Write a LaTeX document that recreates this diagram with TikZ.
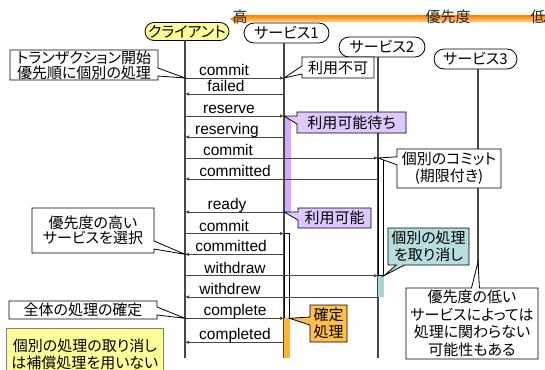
\documentclass[tikz,border=0pt]{standalone}
\usepackage{fontspec}
\setmainfont{Liberation Sans}
\newfontfamily\jp[RawFeature=+palt]{Noto Sans CJK JP}
\usetikzlibrary{shapes.callouts,shapes.misc,arrows.meta}
\definecolor{cyel}{RGB}{255,255,153}
\definecolor{cpur}{RGB}{222,200,255}
\definecolor{cpurbar}{RGB}{212,170,255}
\definecolor{cteal}{RGB}{183,222,222}
\definecolor{ctealbar}{RGB}{170,214,214}
\definecolor{corg}{RGB}{255,192,80}
\definecolor{corgbar}{RGB}{255,180,50}
\definecolor{cline}{RGB}{70,70,70}
\definecolor{cbarA}{RGB}{255,140,0}
\definecolor{cbarB}{RGB}{255,210,150}
\begin{document}
\begin{tikzpicture}[x=1pt,y=-1pt,
 head/.style={rounded rectangle, draw=black, line width=0.8pt, fill=white, font=\jp\fontsize{15}{17}\selectfont, inner sep=1pt, minimum height=19pt},
 life/.style={draw=cline, line width=1.2pt},
 msg/.style={draw=cline, line width=1pt, -{Latex[length=4pt,width=3.5pt]}},
 lbl/.style={font=\fontsize{15.5}{16}\selectfont, anchor=base, inner sep=0pt},
 note/.style={rectangle callout, draw=black, line width=0.8pt, fill=white, font=\jp\fontsize{15}{17}\selectfont, align=center, inner sep=0pt, callout pointer width=8pt},
 prio/.style={font=\jp\fontsize{15}{15}\selectfont, text=black!85, inner sep=0pt},
]
\useasboundingbox (0,0) rectangle (545,369);
\clip (0,0) rectangle (545,369);

% lifeline x positions
\coordinate (L0) at (185,0);
\coordinate (L1) at (284,0);
\coordinate (L2) at (378,0);
\coordinate (L3) at (478,0);
\coordinate (B) at (0,358);
\coordinate (B3) at (0,300);

% priority bar
\coordinate (P0) at (230,19);
\coordinate (P1) at (545,19);
\shade[top color=cbarA, bottom color=cbarB] (237,16) rectangle (P1 |- 0,22);
\fill[cbarA] (P0) -- (238,13.5) -- (238,24.5) -- cycle;
\node[prio, anchor=base] (hi) at (240,22.5) {高};
\node[prio, anchor=base] (mid) at (448,22.5) {優先度};
\node[prio, anchor=base] (lo) at (538,22.5) {低};

% headers
\node[head, fill=cyel, minimum width=86pt, minimum height=18pt] (cl) at (187,31.5) {クライアント};
\node[head, minimum width=87pt, minimum height=20pt] (s1) at (286.5,33) {サービス1};
\node[head, minimum width=88pt, minimum height=20pt] (s2) at (382,47) {サービス2};
\node[head, minimum width=85pt, minimum height=20pt] (s3) at (475.5,59) {サービス3};

% lifelines
\draw[life] (cl.south -| L0) -- (L0 |- B);
\draw[life] (s1.south -| L1) -- (L1 |- B);
\draw[life] (s2.south -| L2) -- (L2 |- B);
\draw[life] (s3.south -| L3) -- (L3 |- B3);

% activation bars
\fill[cpurbar] (285,116) rectangle (290.5,212);
\draw[fill=white, line width=0.8pt] (284,233.5) rectangle (289,318.3);
\fill[corgbar] (283.5,318.3) rectangle (289.5,358);
\draw[fill=white, line width=0.8pt] (378,158) rectangle (383,275.7);
\fill[ctealbar] (377.5,275.7) rectangle (384,297);

% messages
\draw[msg] (L0 |- 0,78) -- (L1 |- 0,78);
\node[lbl] (m1) at (224,75.5) {commit};
\draw[msg] (L1 |- 0,94) -- (L0 |- 0,94);
\node[lbl] (m2) at (226,91.5) {failed};
\draw[msg] (L0 |- 0,116) -- (L1 |- 0,116);
\node[lbl] (m3) at (229,113.5) {reserve};
\draw[msg] (L1 |- 0,137) -- (L0 |- 0,137);
\node[lbl] (m4) at (227,134) {reserving};
\draw[msg] (L0 |- 0,158) -- (L2 |- 0,158);
\node[lbl] (m5) at (228,155.5) {commit};
\draw[msg] (L2 |- 0,179) -- (L0 |- 0,179);
\node[lbl] (m6) at (235,176.5) {committed};
\draw[msg] (L1 |- 0,212) -- (L0 |- 0,212);
\node[lbl] (m7) at (227,209.5) {ready};
\draw[msg] (L0 |- 0,233.5) -- (L1 |- 0,233.5);
\node[lbl] (m8) at (224,231) {commit};
\draw[msg] (L1 |- 0,254.3) -- (L0 |- 0,254.3);
\node[lbl] (m9) at (231,251.8) {committed};
\draw[msg] (L0 |- 0,275.7) -- (L2 |- 0,275.7);
\node[lbl] (m10) at (235,273.2) {withdraw};
\draw[msg] (L2 |- 0,297) -- (L0 |- 0,297);
\node[lbl] (m11) at (230,294.5) {withdrew};
\draw[msg] (L0 |- 0,318.3) -- (L1 |- 0,318.3);
\node[lbl] (m12) at (235,315.8) {complete};
\draw[msg] (L1 |- 0,342.3) -- (L0 |- 0,342.3);
\node[lbl] (m13) at (235,339.8) {completed};

% notes
\coordinate (tb) at (384,275.7);
\coordinate (ob) at (289.5,318.3);
\node[note, minimum width=148pt, minimum height=30pt, font=\jp\fontsize{15}{15}\selectfont,
  callout absolute pointer={(L0 |- 0,78)}] (n1) at (84,65) {トランザクション開始\\優先順に個別の処理};
\node[note, minimum width=72pt, minimum height=21pt,
  callout absolute pointer={(L1 |- 0,78)}] (n2) at (338,67.5) {利用不可};
\node[note, fill=cpur, minimum width=109pt, minimum height=21pt,
  callout absolute pointer={(L1 |- 0,116)}] (n3) at (351.5,122.5) {利用可能待ち};
\node[note, minimum width=104pt, minimum height=39pt,
  callout absolute pointer={(L2 |- 0,158)}] (n4) at (449,168.5) {個別のコミット\\(期限付き)};
\node[note, fill=cpur, minimum width=73pt, minimum height=20pt,
  callout absolute pointer={(L1 |- 0,212)}] (n5) at (334.5,218) {利用可能};
\node[note, minimum width=122pt, minimum height=45pt, font=\jp\fontsize{15}{15}\selectfont,
  callout absolute pointer={(L0 |- 0,254.3)}] (n6) at (93,230.5) {優先度の高い\\サービスを選択};
\node[note, fill=cteal, minimum width=81pt, minimum height=37pt,
  callout absolute pointer={(tb)}] (n7) at (428.5,246.5) {個別の処理\\を取り消し};
\node[note, minimum width=132pt, minimum height=71pt, font=\jp\fontsize{15}{17.5}\selectfont,
  callout absolute pointer={(L3 |- 0,262)}] (n8) at (472,323.5) {優先度の低い\\サービスによっては\\処理に関わらない\\可能性もある};
\node[note, minimum width=148pt, minimum height=18pt,
  callout absolute pointer={(L0 |- 0,318.3)}] (n9) at (83,310) {全体の処理の確定};
\node[note, fill=corg, minimum width=37pt, minimum height=37pt,
  callout absolute pointer={(ob)}] (n10) at (328.5,323.5) {確定\\処理};
\node[draw=gray, line width=0.8pt, fill=cyel, minimum width=157pt, minimum height=52pt, inner sep=0pt,
  align=center, anchor=north west, font=\jp\fontsize{15}{16.7}\selectfont] (n11) at (6,328) {個別の処理の取り消し\\は補償処理を用いない};
\end{tikzpicture}
\end{document}
